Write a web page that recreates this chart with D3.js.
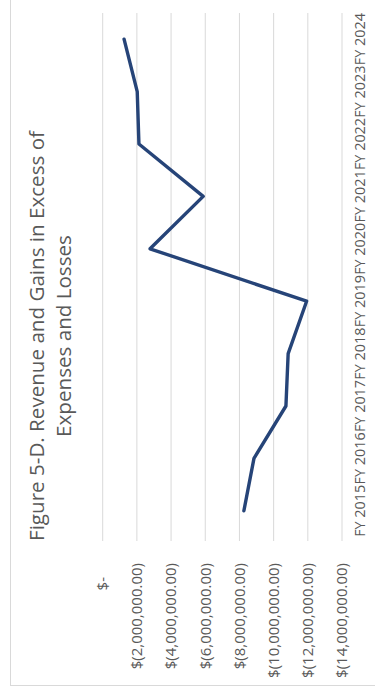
<!DOCTYPE html>
<html>
<head>
<meta charset="utf-8">
<script src="https://cdn.jsdelivr.net/npm/d3@7"></script>
<style>
  html, body { margin: 0; padding: 0; background: #ffffff; }
  svg { display: block; }
  text { font-family: "Open Sans", "Noto Sans", sans-serif; fill: #595959; }
</style>
</head>
<body>
<div id="chart"></div>
<script>
// Fiscal years on the category axis
const years = ["FY 2015", "FY 2016", "FY 2017", "FY 2018", "FY 2019",
               "FY 2020", "FY 2021", "FY 2022", "FY 2023", "FY 2024"];
// Revenue and gains in excess of expenses and losses (USD)
const netValues = [-8260000, -8850000, -10720000, -10850000, -11930000,
                   -2770000, -5880000, -2120000, -2020000, -1250000];
// Value axis ticks
const valueTicks = [0, -2000000, -4000000, -6000000, -8000000,
                    -10000000, -12000000, -14000000];
const titleLines = ["Figure 5-D. Revenue and Gains in Excess of", "Expenses and Losses"];

const W = 375, H = 691;
const svg = d3.select("#chart").append("svg")
  .attr("width", W).attr("height", H);

// chart frame
svg.append("rect")
  .attr("x", 10.5).attr("y", -5)
  .attr("width", 400).attr("height", 690.5)
  .attr("fill", "none").attr("stroke", "#d9d9d9").attr("stroke-width", 1);

// The chart is laid out in its own frame and turned a quarter turn
// counter-clockwise onto the page.
const g = svg.append("g").attr("transform", `translate(0,${H}) rotate(-90)`);

const x = d3.scaleBand().domain(years).range([154, 678]).padding(0);
const y = d3.scaleLinear().domain([0, -14000000]).range([102.7, 342]);

// gridlines
g.append("g").selectAll("line").data(valueTicks).join("line")
  .attr("x1", 150).attr("x2", 678)
  .attr("y1", d => y(d)).attr("y2", d => y(d))
  .attr("stroke", "#d9d9d9").attr("stroke-width", 1);

// value axis labels (accounting format)
const fmt = d3.format(",.2f");
const money = v => v === 0 ? "$-" : (v < 0 ? `$(${fmt(-v)})` : `$${fmt(v)}`);
const yAxis = d3.axisLeft(y).tickValues(valueTicks).tickFormat(money)
  .tickSize(0).tickPadding(0);
const ya = g.append("g").attr("transform", "translate(128,0)").call(yAxis);
ya.select(".domain").remove();
ya.selectAll("text")
  .attr("font-size", 15)
  .attr("fill", "#595959")
  .attr("font-family", "'Open Sans', sans-serif")
  .attr("dx", d => d === 0 ? -14 : 0);

// category axis labels
const xAxis = d3.axisBottom(x).tickSize(0).tickPadding(0);
const xa = g.append("g").attr("transform", "translate(0,355)").call(xAxis);
xa.select(".domain").remove();
xa.selectAll("text")
  .attr("font-size", 14.4)
  .attr("fill", "#595959")
  .attr("font-family", "'Open Sans', sans-serif")
  .attr("dy", "0.71em");

// data line
const line = d3.line()
  .x((d, i) => x(years[i]) + x.bandwidth() / 2)
  .y(d => y(d));
g.append("path").datum(netValues)
  .attr("d", line)
  .attr("fill", "none")
  .attr("stroke", "#264478")
  .attr("stroke-width", 3.4)
  .attr("stroke-linejoin", "round")
  .attr("stroke-linecap", "round");

// title
const title = g.append("text")
  .attr("text-anchor", "middle")
  .attr("font-size", 20.6)
  .attr("fill", "#595959");
title.selectAll("tspan").data(titleLines).join("tspan")
  .attr("x", 355)
  .attr("y", (d, i) => 44 + i * 27)
  .text(d => d);
</script>
</body>
</html>
